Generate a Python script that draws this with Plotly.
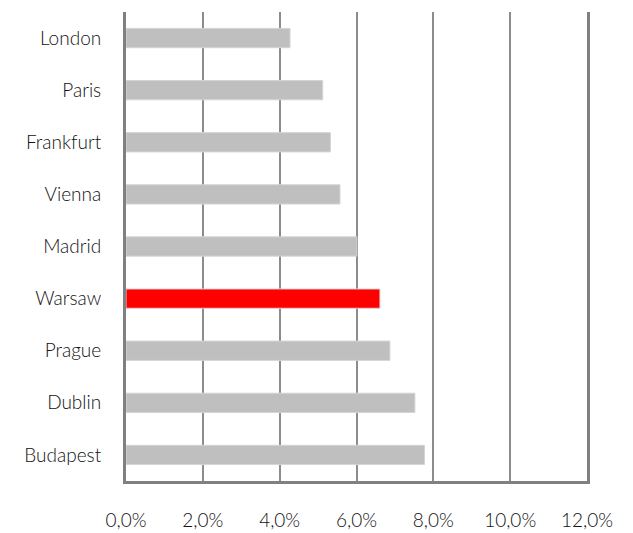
import plotly.graph_objects as go

cities = ["London", "Paris", "Frankfurt", "Vienna", "Madrid", "Warsaw", "Prague", "Dublin", "Budapest"]
values = [0.0427, 0.0512, 0.0532, 0.0557, 0.0601, 0.0661, 0.0687, 0.0752, 0.0777]
highlight = "Warsaw"
x_ticks = [0, 0.02, 0.04, 0.06, 0.08, 0.10, 0.12]

colors = ["#FF0000" if c == highlight else "#BFBFBF" for c in cities]

fig = go.Figure(go.Bar(
    x=values, y=cities, orientation="h",
    marker=dict(color=colors, line=dict(color="#D4D4D4", width=1)),
    width=0.37,
))

fig.update_layout(
    width=633, height=533,
    margin=dict(l=126, r=46, t=12, b=52),
    paper_bgcolor="white", plot_bgcolor="white",
    separators=",.",
    showlegend=False,
    font=dict(family="Lato, sans-serif", size=19, color="#111111", weight=300),
    bargap=0.63,
)
fig.update_xaxes(
    range=[0, 0.12], tickvals=x_ticks, tickformat=".1%",
    showgrid=True, gridcolor="#8C8C8C", gridwidth=2,
    showline=True, linecolor="#808080", linewidth=3,
    zeroline=False, ticks="", ticklabelstandoff=20, automargin=False,
)
fig.update_yaxes(
    autorange="reversed", showgrid=False,
    showline=True, linecolor="#808080", linewidth=3, mirror=True,
    ticks="", ticklabelstandoff=18, automargin=False,
)

fig.write_html("out.html")
